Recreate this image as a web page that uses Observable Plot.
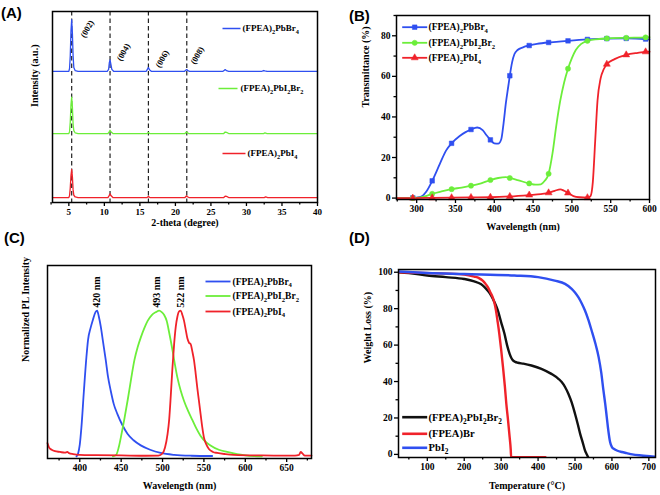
<!DOCTYPE html>
<html><head><meta charset="utf-8">
<script src="https://cdn.jsdelivr.net/npm/d3@7"></script>
<script src="https://cdn.jsdelivr.net/npm/@observablehq/plot@0.6"></script>
<style>
html,body{margin:0;padding:0;background:#fff;}
body{width:660px;height:495px;position:relative;overflow:hidden;}
.panel{position:absolute;}
.lab{position:absolute;font:bold 15px "Liberation Sans",Arial,sans-serif;line-height:15px;color:#000;}
</style></head>
<body>
<div id="pA" class="panel" style="left:0;top:0;width:330px;height:247px"></div>
<div id="pB" class="panel" style="left:330px;top:0;width:330px;height:247px"></div>
<div id="pC" class="panel" style="left:0;top:247px;width:330px;height:248px"></div>
<div id="pD" class="panel" style="left:330px;top:247px;width:330px;height:248px"></div>
<div class="lab" style="left:1px;top:5px">(A)</div>
<div class="lab" style="left:349px;top:8px">(B)</div>
<div class="lab" style="left:4px;top:230px">(C)</div>
<div class="lab" style="left:349px;top:230px">(D)</div>
<script>
// ---------------- DATA ----------------
// (A) XRD: [2theta, intensity above own baseline]
const xrdBr4 = [[2.7,0],[5.0,0],[5.1,1.5],[5.2,8],[5.3,21],[5.4,27],[5.5,20],[5.6,8],[5.7,2],[5.9,0.3],[6.3,0],
  [10.4,0],[10.6,1],[10.7,4.5],[10.8,6],[10.9,4],[11.05,1],[11.3,0],
  [15.9,0],[16.05,1],[16.2,2],[16.35,0.8],[16.6,0],
  [21.3,0],[21.45,0.5],[21.6,0.9],[21.75,0.3],[22.0,0],
  [26.7,0],[26.9,0.6],[27.0,0.9],[27.2,0.3],[27.5,0],
  [32.2,0],[32.4,0.4],[32.6,0.2],[32.9,0],[40,0]];
const xrdI2Br2 = [[2.7,0],[5.0,0],[5.1,1],[5.2,6],[5.3,15],[5.4,19],[5.5,14],[5.6,5],[5.7,1.5],[5.9,0.3],[6.3,0],
  [10.5,0],[10.65,0.8],[10.8,1.7],[10.95,0.8],[11.2,0],
  [16.0,0],[16.2,0.5],[16.4,0],
  [21.35,0],[21.55,0.8],[21.7,0.3],[21.9,0],
  [26.8,0],[27.0,0.8],[27.2,0.6],[27.5,0],
  [32.4,0],[32.6,0.3],[32.9,0],[40,0]];
const xrdI4 = [[2.7,0],[5.0,0],[5.1,1],[5.2,5],[5.3,11.5],[5.4,14.7],[5.5,11],[5.6,4],[5.7,1.2],[5.9,0.3],[6.3,0],
  [10.5,0],[10.65,0.9],[10.8,1.9],[10.95,0.9],[11.2,0],
  [16.0,0],[16.2,0.6],[16.4,0],
  [21.35,0],[21.55,0.9],[21.7,0.4],[21.9,0],
  [26.8,0],[27.0,0.7],[27.2,0.6],[27.5,0],
  [32.5,0],[32.7,0.3],[33.0,0],[40,0]];
const xrdOffsets = [68.7, 36.1, 2.6];
const xrdPeaks = [5.4, 10.8, 16.2, 21.6];
const xrdPeakLabels = ["(002)", "(004)", "(006)", "(008)"];
const xrdTicks = [5,10,15,20,25,30,35,40];

// (B) Transmittance (%) vs wavelength (nm)
const trBr4 = [[275,0.1],[295,0.1],[305,0.6],[312,3],[320,8.5],[330,17],[338,23.5],[345,27],[355,30.5],[363,32.5],[370,33.8],[378,34.8],[385,33.5],[390,31],[395,28.7],[400,27],[405,26.8],[409,29],[412,37],[415,47],[418,55],[420,60.3],[423,67],[426,71],[430,73],[437,74.3],[445,75.2],[455,76],[470,76.7],[480,77],[495,77.5],[520,78.2],[545,78.6],[570,78.7],[595,78.4],[600,78.2]];
const trI2Br2 = [[275,0],[295,0],[305,0.3],[312,1],[320,2.1],[332,3.3],[345,4.4],[358,5.2],[370,6.1],[383,7.3],[395,8.9],[405,9.9],[415,10.3],[420,9.9],[430,8.9],[445,7.2],[453,6.6],[460,6.8],[465,8.5],[470,12],[475,22],[480,36],[485,48],[490,57],[495,63.8],[500,69],[505,73],[512,76],[520,77.5],[530,78.2],[545,78.7],[570,79],[595,79.2],[600,79.3]];
const trI4 = [[275,0],[295,0],[320,0.1],[345,0.2],[370,0.3],[395,0.4],[420,0.8],[445,1.5],[460,2],[470,2.6],[478,3.6],[485,4.3],[490,3.6],[495,2.5],[502,1],[510,0.4],[520,0.2],[524,1],[527,8],[530,28],[533,48],[537,59],[541,63.5],[545,66],[555,68.5],[570,70.6],[585,71.6],[595,72.1],[600,72.2]];
const trMarkerWl = [295,320,345,370,395,420,445,470,495,520,545,570,595];
const trXTicks = [300,350,400,450,500,550,600];
const trYTicks = [0,20,40,60,80];

// (C) Normalized PL intensity vs wavelength (nm)
const plBr4 = [[396,0],[398,0.02],[400,0.08],[402,0.2],[405,0.45],[408,0.68],[410,0.8],[413,0.88],[416,0.94],[419,0.99],[421,1.0],[423,0.96],[425.4,0.89],[428,0.79],[431.4,0.66],[434,0.55],[437.4,0.45],[441,0.36],[445.5,0.29],[451,0.22],[457.6,0.155],[465,0.11],[473.7,0.075],[485,0.045],[497.8,0.023],[514,0.01],[535,0.004],[560,0.002]];
const plI2Br2 = [[440,0],[444,0.01],[447,0.06],[450,0.14],[454,0.26],[458,0.39],[462,0.53],[466,0.66],[470,0.75],[474,0.82],[478,0.88],[482,0.93],[487,0.97],[492,0.99],[496,1.0],[499,0.99],[502,0.97],[505,0.93],[508,0.85],[512,0.73],[515,0.63],[518,0.54],[522,0.45],[526,0.38],[531,0.31],[536,0.25],[541,0.19],[546,0.14],[552,0.1],[558,0.075],[568,0.045],[578,0.03],[590,0.015],[600,0.007],[610,0.002],[620,0]];
const plI4 = [[361,0.09],[363,0.06],[366,0.045],[370,0.035],[376,0.03],[382,0.025],[385,0.03],[387,0.022],[392,0.015],[400,0.01],[420,0.008],[450,0.006],[480,0.004],[495,0.005],[500,0.02],[503,0.06],[506,0.15],[508,0.25],[510,0.42],[512,0.61],[514,0.77],[516,0.89],[518,0.96],[520,0.995],[522,1.0],[524,0.97],[526,0.93],[528,0.87],[530,0.81],[532,0.78],[534,0.77],[536,0.72],[538,0.66],[540,0.57],[542,0.47],[544,0.38],[546,0.29],[548,0.2],[550,0.13],[553,0.08],[556,0.05],[561,0.03],[566,0.023],[576,0.015],[586,0.01],[620,0.006],[660,0.005],[665,0.01],[667,0.03],[669,0.02],[672,0.005],[680,0.005]];
const plPeaks = [420, 493, 522];
const plPeakLabels = ["420 nm", "493 nm", "522 nm"];
const plXTicks = [400,450,500,550,600,650];

// (D) TGA weight (%) vs temperature (°C)
const tgaI2Br2 = [[22,100],[50,99.6],[100,98.2],[150,97.3],[200,96.3],[227,95],[245,93.5],[255,91.8],[265,89.5],[273,87.2],[282,83.5],[291,79],[300,72.5],[309,66.2],[316,60],[323,55.2],[328,52.8],[332,51.6],[338,50.8],[345,50.3],[360,49.8],[382,48.8],[409,47],[436,44.2],[455,41.5],[464,39.7],[473,37],[482,33.3],[491,28.5],[500,22.3],[507,17],[514,11.3],[521,6.5],[527,2.2],[532,0],[536,-1.7]];
const tgaFPEABr = [[22,100],[109,99.5],[200,98.7],[227,97.6],[240,96.8],[250,95.4],[257,93.8],[264,91.8],[270,89.3],[277,86.3],[282,83],[286,79],[290,73.5],[295,66.2],[300,57.5],[305,47.9],[310,37.5],[314,27.8],[319,18],[323,9.5],[326,2.5],[327,-1.5],[340,-1.6],[420,-1.6]];
const tgaPbI2 = [[22,100.4],[100,99.6],[200,99],[336,98.2],[400,97.3],[445,95.4],[473,93.6],[491,90.9],[500,88.9],[509,86.3],[518,83],[527,79],[536,74],[545,68],[555,61],[564,53.4],[571,45],[577,35.1],[582,27.5],[586,20.5],[590,13.5],[595,6.8],[600,4],[605,3.1],[615,2],[627,1.3],[640,0.7],[655,0],[680,-0.6],[709,-1.1],[718,-1.3]];
const tgaXTicks = [100,200,300,400,500,600,700];
const tgaYTicks = [0,20,40,60,80,100];

// ---------------- STYLE / HELPERS ----------------
const FONT = "'Liberation Serif','Times New Roman',serif";
const BLUE = "#2f4ff0", GREEN = "#6cee3a", RED = "#f0222a", BLACK = "#111";
const lin = (d0, d1, p0, p1) => p => d0 + (p - p0) / (p1 - p0) * (d1 - d0);
const X = d => d[0], Y = d => d[1];

function subify(svg) {
  const NS = "http://www.w3.org/2000/svg";
  svg.querySelectorAll("text").forEach(t => {
    const s = t.textContent;
    if (!s.includes("_")) return;
    const F = parseFloat(getComputedStyle(t).fontSize) || 10;
    t.textContent = "";
    let lowered = false;
    s.split(/(_\d+)/).forEach(p => {
      if (!p) return;
      const ts = document.createElementNS(NS, "tspan");
      if (p[0] === "_") {
        ts.textContent = p.slice(1);
        ts.setAttribute("font-size", (F * 0.7).toFixed(2));
        if (!lowered) ts.setAttribute("dy", (F * 0.3).toFixed(2));
        lowered = true;
      } else {
        ts.textContent = p;
        if (lowered) ts.setAttribute("dy", (-F * 0.3).toFixed(2));
        lowered = false;
      }
      t.appendChild(ts);
    });
  });
}

function xAx(major, minor, fs = 9.5) {
  return [
    Plot.axisX({ticks: minor, tickSize: 2.5, strokeWidth: 1.3, tickFormat: () => "", label: null}),
    Plot.axisX({ticks: major, tickSize: 4, tickPadding: 2, strokeWidth: 1.3, fontSize: fs, fontWeight: "bold", label: null})
  ];
}
function yAx(major, minor, fs = 9.5) {
  return [
    Plot.axisY({ticks: minor, tickSize: 2.5, strokeWidth: 1.3, tickFormat: () => "", label: null}),
    Plot.axisY({ticks: major, tickSize: 4, tickPadding: 2, strokeWidth: 1.3, fontSize: fs, fontWeight: "bold", label: null})
  ];
}
const xTitle = (t, dy, fs = 10) => Plot.text([t], {text: d => d, frameAnchor: "bottom", dy, fontSize: fs, fontWeight: "bold"});
const yTitle = (t, dx, fs = 10) => Plot.text([t], {text: d => d, frameAnchor: "left", dx, rotate: -90, fontSize: fs, fontWeight: "bold"});

// legend rows: swatch from x1p to x2p, label at txp, row at py (panel pixels)
function legend(rows, fx, fy, fs, sw, symbols) {
  const out = [];
  rows.forEach((r, i) => {
    const row = {x1: fx(r.x1p), x2: fx(r.x2p), xm: fx((r.x1p + r.x2p) / 2), tx: fx(r.txp), y: fy(r.py), label: r.label};
    out.push(Plot.link([row], {x1: "x1", x2: "x2", y1: "y", y2: "y", stroke: r.color, strokeWidth: sw}));
    if (symbols) out.push(Plot.dot([row], {x: "xm", y: "y", symbol: symbols[i], r: 2.6, fill: r.color, stroke: r.color, strokeWidth: 0.5}));
    out.push(Plot.text([row], {x: "tx", y: "y", text: "label", textAnchor: "start", fontSize: fs, fontWeight: "bold"}));
  });
  return out;
}

function draw(id, opts, marks) {
  const svg = Plot.plot({
    ...opts,
    marks,
    style: {fontFamily: FONT, fontWeight: "bold", fontSize: "9.5px", background: "white", color: "black", overflow: "visible"}
  });
  document.getElementById(id).appendChild(svg);
  subify(svg);
}
const frame = () => Plot.frame({stroke: "black", strokeWidth: 1.5});

// ---------------- (A) ----------------
{
  const W = 330, H = 247, L = 52, R = 13, T = 11, B = 45;
  const xd = [2.7, 40], yd = [0, 100];
  const fx = lin(xd[0], xd[1], L, W - R), fy = lin(yd[0], yd[1], H - B, T);
  const series = [xrdBr4, xrdI2Br2, xrdI4], cols = [BLUE, GREEN, RED];
  const labelAt = [[86.7, 28.3], [123, 51.7], [161.7, 58.3], [196.7, 55]];
  const minor = xrdTicks.map(v => v - 2.5);
  draw("pA", {width: W, height: H, marginLeft: L, marginRight: R, marginTop: T, marginBottom: B,
    x: {domain: xd}, y: {domain: yd, axis: null}}, [
    Plot.ruleX(xrdPeaks, {stroke: "#222", strokeWidth: 1.2, strokeDasharray: "4.5,3"}),
    ...series.map((s, i) => Plot.line(s, {x: X, y: d => d[1] + xrdOffsets[i], stroke: cols[i], strokeWidth: 1.3})),
    Plot.text(xrdPeakLabels, {x: (d, i) => fx(labelAt[i][0]), y: (d, i) => fy(labelAt[i][1]), text: d => d, rotate: -60, fontSize: 8.5, fontWeight: "bold"}),
    ...legend([
      {label: "(FPEA)_2PbBr_4", color: BLUE, x1p: 222, x2p: 240, txp: 242, py: 28},
      {label: "(FPEA)_2PbI_2Br_2", color: GREEN, x1p: 218, x2p: 237, txp: 240, py: 88},
      {label: "(FPEA)_2PbI_4", color: RED, x1p: 222, x2p: 245, txp: 247, py: 153}
    ], fx, fy, 9, 1.5),
    ...xAx(xrdTicks, minor, 9),
    xTitle("2-theta (degree)", 23),
    yTitle("Intensity (a.u.)", -18),
    frame()
  ]);
}

// ---------------- (B) ----------------
{
  const W = 330, H = 247, L = 66, R = 11, T = 15, B = 48;
  const xd = [274, 600], yd = [-0.7, 90];
  const fx = lin(xd[0], xd[1], L, W - R), fy = lin(yd[0], yd[1], H - B, T);
  const series = [trBr4, trI2Br2, trI4], cols = [BLUE, GREEN, RED], syms = ["square", "circle", "triangle"];
  draw("pB", {width: W, height: H, marginLeft: L, marginRight: R, marginTop: T, marginBottom: B,
    x: {domain: xd}, y: {domain: yd}}, [
    ...series.map((s, i) => Plot.line(s, {x: X, y: Y, stroke: cols[i], strokeWidth: 1.8, curve: "monotone-x"})),
    ...series.map((s, i) => Plot.dot(s.filter(d => trMarkerWl.includes(d[0])), {x: X, y: Y, symbol: syms[i], r: 2.6, fill: cols[i], stroke: cols[i], strokeWidth: 0.5})),
    ...legend([
      {label: "(FPEA)_2PbBr_4", color: BLUE, x1p: 71.7, x2p: 96.7, txp: 98, py: 26.7},
      {label: "(FPEA)_2PbI_2Br_2", color: GREEN, x1p: 71.7, x2p: 96.7, txp: 98, py: 42.3},
      {label: "(FPEA)_2PbI_4", color: RED, x1p: 71.7, x2p: 96.7, txp: 98, py: 57.3}
    ], fx, fy, 9.5, 1.8, syms),
    ...xAx(trXTicks, [275, 325, 375, 425, 475, 525, 575]),
    ...yAx(trYTicks, [10, 30, 50, 70, 90]),
    xTitle("Wavelength (nm)", 30),
    yTitle("Transmittance (%)", -31),
    frame()
  ]);
}

// ---------------- (C) ----------------
{
  const W = 330, H = 248, L = 47, R = 19, T = 18, B = 37;
  const xd = [361, 680], yd = [-0.015, 1.31];
  const fx = lin(xd[0], xd[1], L, W - R), fy = lin(yd[0], yd[1], H - B, T);
  const series = [plBr4, plI2Br2, plI4], cols = [BLUE, GREEN, RED];
  draw("pC", {width: W, height: H, marginLeft: L, marginRight: R, marginTop: T, marginBottom: B,
    x: {domain: xd}, y: {domain: yd, axis: null}}, [
    ...series.map((s, i) => Plot.line(s, {x: X, y: Y, stroke: cols[i], strokeWidth: 1.8, curve: "monotone-x"})),
    Plot.text(plPeakLabels, {x: (d, i) => plPeaks[i], y: 1.02, text: d => d, rotate: -90, textAnchor: "start", fontSize: 10, fontWeight: "bold"}),
    ...legend([
      {label: "(FPEA)_2PbBr_4", color: BLUE, x1p: 205, x2p: 230, txp: 232, py: 34},
      {label: "(FPEA)_2PbI_2Br_2", color: GREEN, x1p: 205, x2p: 230, txp: 232, py: 48.5},
      {label: "(FPEA)_2PbI_4", color: RED, x1p: 205, x2p: 230, txp: 232, py: 64}
    ], fx, fy, 9.5, 1.8),
    ...xAx(plXTicks, [375, 425, 475, 525, 575, 625, 675]),
    xTitle("Wavelength (nm)", 30),
    yTitle("Normalized PL Intensity", -22),
    frame()
  ]);
}

// ---------------- (D) ----------------
{
  const W = 330, H = 248, L = 68, R = 5, T = 22, B = 38;
  const xd = [22, 718], yd = [-1.7, 101.5];
  const fx = lin(xd[0], xd[1], L, W - R), fy = lin(yd[0], yd[1], H - B, T);
  const series = [tgaI2Br2, tgaFPEABr, tgaPbI2], cols = [BLACK, RED, BLUE];
  draw("pD", {width: W, height: H, marginLeft: L, marginRight: R, marginTop: T, marginBottom: B,
    x: {domain: xd}, y: {domain: yd}}, [
    ...series.map((s, i) => Plot.line(s, {x: X, y: Y, stroke: cols[i], strokeWidth: 2.4, curve: "monotone-x", clip: true})),
    ...legend([
      {label: "(FPEA)_2PbI_2Br_2", color: BLACK, x1p: 71.7, x2p: 96.7, txp: 98, py: 169.7},
      {label: "(FPEA)Br", color: RED, x1p: 71.7, x2p: 96.7, txp: 98, py: 186.3},
      {label: "PbI_2", color: BLUE, x1p: 71.7, x2p: 96.7, txp: 98, py: 200.3}
    ], fx, fy, 10.5, 2.6),
    ...xAx(tgaXTicks, [50, 150, 250, 350, 450, 550, 650]),
    ...yAx(tgaYTicks, [10, 30, 50, 70, 90]),
    xTitle("Temperature (°C)", 31),
    yTitle("Weight Loss (%)", -31),
    frame()
  ]);
}
</script>
</body></html>
